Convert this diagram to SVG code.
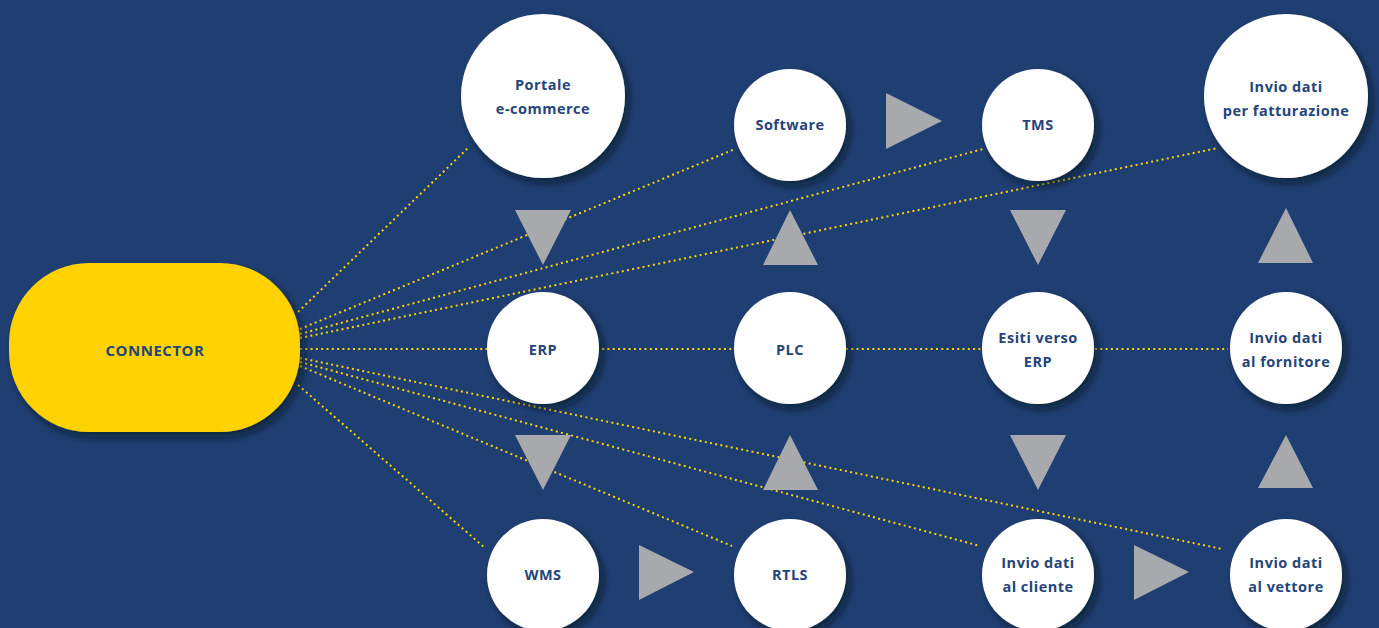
<svg xmlns="http://www.w3.org/2000/svg" width="1379" height="628" viewBox="0 0 1379 628">
<defs>
<filter id="sh" x="-30%" y="-30%" width="160%" height="160%">
<feDropShadow dx="4" dy="5" stdDeviation="4" flood-color="#000814" flood-opacity="0.6"/>
</filter>
<style>
.c{fill:#ffffff;filter:url(#sh)}
.t{font-family:"Open Sans","Liberation Sans",sans-serif;font-weight:700;font-size:14.5px;letter-spacing:0.5px;fill:#24457a;text-anchor:middle}
.l{fill:none;stroke:#ffd200;stroke-width:2;stroke-dasharray:2 3.3}
.tri{fill:#a7a9ac}
</style>
</defs>
<rect x="0" y="0" width="1379" height="628" fill="#1f3f73"/>
<g id="connectors">
<line class="l" x1="298" y1="312" x2="468" y2="148"/>
<line class="l" x1="300" y1="329" x2="735" y2="149"/>
<line class="l" x1="300" y1="334" x2="983" y2="149"/>
<line class="l" x1="300" y1="338" x2="1218" y2="148"/>
<line class="l" x1="300" y1="349" x2="1228" y2="349"/>
<line class="l" x1="300" y1="358" x2="1222" y2="549"/>
<line class="l" x1="300" y1="362" x2="980" y2="546"/>
<line class="l" x1="300" y1="366" x2="732" y2="546"/>
<line class="l" x1="298" y1="385" x2="485" y2="548"/>
</g>
<g id="arrows">
<polygon class="tri" points="886,93 942,121 886,149"/>
<polygon class="tri" points="515,210 571,210 543,265"/>
<polygon class="tri" points="790,210 818,265 763,265"/>
<polygon class="tri" points="1010,210 1066,210 1038,265"/>
<polygon class="tri" points="1286,208 1313,263 1258,263"/>
<polygon class="tri" points="515,435 571,435 543,490"/>
<polygon class="tri" points="790,435 818,490 763,490"/>
<polygon class="tri" points="1010,435 1066,435 1038,490"/>
<polygon class="tri" points="1286,435 1313,488 1258,488"/>
<polygon class="tri" points="639,545 694,572 639,600"/>
<polygon class="tri" points="1134,545 1189,572 1134,600"/>
</g>
<g id="connector">
<rect x="9" y="263" width="291" height="169" rx="80" ry="80" fill="#ffd200" filter="url(#sh)"/>
<text class="t" x="155" y="356" style="font-size:15px">CONNECTOR</text>
</g>
<g id="portale"><circle class="c" cx="543" cy="96" r="82"/><text class="t" x="543" y="90">Portale</text><text class="t" x="543" y="114">e-commerce</text></g>
<g id="software"><circle class="c" cx="790" cy="125" r="56"/><text class="t" x="790" y="130">Software</text></g>
<g id="tms"><circle class="c" cx="1038" cy="125" r="56"/><text class="t" x="1038" y="130">TMS</text></g>
<g id="fatturazione"><circle class="c" cx="1286" cy="96" r="82"/><text class="t" x="1286" y="92">Invio dati</text><text class="t" x="1286" y="116">per fatturazione</text></g>
<g id="erp"><circle class="c" cx="543" cy="348" r="56"/><text class="t" x="543" y="355">ERP</text></g>
<g id="plc"><circle class="c" cx="790" cy="348" r="56"/><text class="t" x="790" y="355">PLC</text></g>
<g id="esiti"><circle class="c" cx="1038" cy="348" r="56"/><text class="t" x="1038" y="343">Esiti verso</text><text class="t" x="1038" y="367">ERP</text></g>
<g id="fornitore"><circle class="c" cx="1286" cy="348" r="56"/><text class="t" x="1286" y="343">Invio dati</text><text class="t" x="1286" y="367">al fornitore</text></g>
<g id="wms"><circle class="c" cx="543" cy="575" r="56"/><text class="t" x="543" y="580">WMS</text></g>
<g id="rtls"><circle class="c" cx="790" cy="575" r="56"/><text class="t" x="790" y="580">RTLS</text></g>
<g id="cliente"><circle class="c" cx="1038" cy="575" r="56"/><text class="t" x="1038" y="568">Invio dati</text><text class="t" x="1038" y="592">al cliente</text></g>
<g id="vettore"><circle class="c" cx="1286" cy="575" r="56"/><text class="t" x="1286" y="568">Invio dati</text><text class="t" x="1286" y="592">al vettore</text></g>
</svg>
